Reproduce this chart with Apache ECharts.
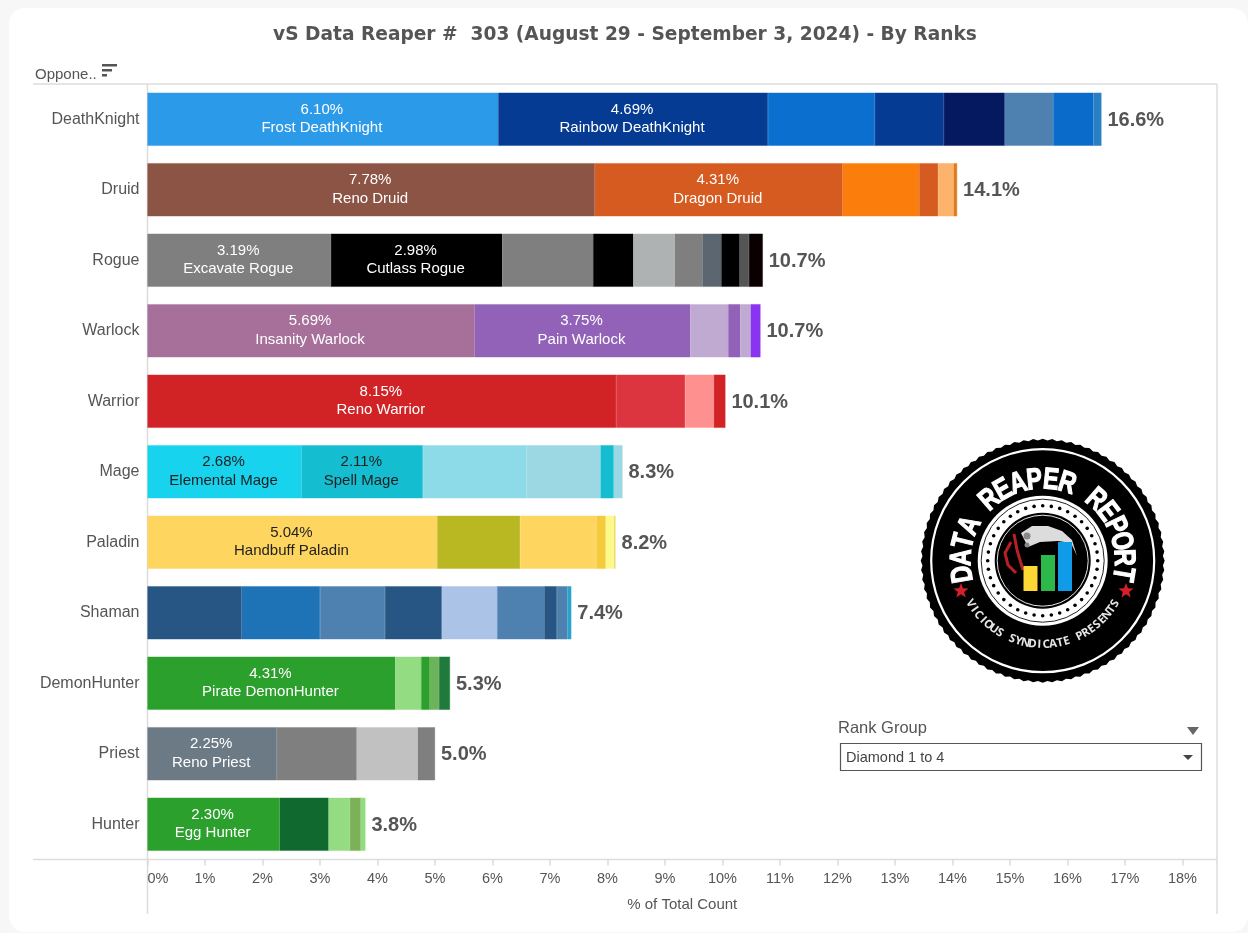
<!DOCTYPE html>
<html><head><meta charset="utf-8">
<style>
html,body{margin:0;padding:0;width:1248px;height:933px;background:#f7f7f7;overflow:hidden}
#card{position:absolute;left:9px;top:8px;width:1239px;height:924px;background:#fff;border-radius:16px}
#chart{position:absolute;left:0;top:0;width:1248px;height:933px;filter:blur(0.35px)}
</style>
<script src="https://cdn.jsdelivr.net/npm/echarts@6/dist/echarts.min.js"></script>
</head><body><div id="card"></div><div id="chart"></div>
<script>
const titleText = 'vS Data Reaper #  303 (August 29 - September 3, 2024) - By Ranks';
const categories = ['DeathKnight','Druid','Rogue','Warlock','Warrior','Mage','Paladin','Shaman','DemonHunter','Priest','Hunter'];
const totalLabels = ['16.6%','14.1%','10.7%','10.7%','10.1%','8.3%','8.2%','7.4%','5.3%','5.0%','3.8%'];
const xTicks = [0,1,2,3,4,5,6,7,8,9,10,11,12,13,14,15,16,17,18];

const deathKnightValues = [6.10,4.69,1.86,1.20,1.06,0.84,0.70,0.14];
const druidValues = [7.78,4.31,1.33,0.33,0.27,0.06];
const rogueValues = [3.19,2.98,1.58,0.70,0.72,0.48,0.33,0.32,0.16,0.24];
const warlockValues = [5.69,3.75,0.66,0.21,0.18,0.17];
const warriorValues = [8.15,1.20,0.50,0.20];
const mageValues = [2.68,2.11,1.80,1.29,0.23,0.15];
const paladinValues = [5.04,1.44,1.33,0.16,0.14,0.03];
const shamanValues = [1.64,1.36,1.13,0.99,0.96,0.82,0.22,0.18,0.07];
const demonHunterValues = [4.31,0.45,0.15,0.16,0.19];
const priestValues = [2.25,1.39,1.06,0.30];
const hunterValues = [2.30,0.85,0.37,0.19,0.08];
const classValues = [deathKnightValues,druidValues,rogueValues,warlockValues,warriorValues,mageValues,paladinValues,shamanValues,demonHunterValues,priestValues,hunterValues];

const classNames = [
  ['Frost DeathKnight','Rainbow DeathKnight'],['Reno Druid','Dragon Druid'],['Excavate Rogue','Cutlass Rogue'],
  ['Insanity Warlock','Pain Warlock'],['Reno Warrior'],['Elemental Mage','Spell Mage'],['Handbuff Paladin'],[],
  ['Pirate DemonHunter'],['Reno Priest'],['Egg Hunter']];

const classColors = [
  ['#2b9ae9','#053b93','#0b6fcf','#053b93','#04195f','#4f81b0','#0b6bcb','#2a7fc4'],
  ['#8b5444','#d65b20','#fb7d0b','#d65b20','#fdb36b','#e07b1f'],
  ['#7f7f7f','#000000','#7f7f7f','#000000','#aeb2b2','#7f7f7f','#5b6670','#000000','#555555','#0a0000'],
  ['#a6709b','#9162b7','#c0aad2','#9162b7','#c0aad2','#8a33f0'],
  ['#d12326','#dd3540','#ff9090','#d12326'],
  ['#17d3ee','#14bdd0','#8ddbe8','#9bd8e3','#14bdd0','#9bd8e3'],
  ['#fed55e','#b9b822','#fed55e','#f5cb3c','#fdfa8c','#f0dc70'],
  ['#285684','#1d73b6','#4f81b0','#285684','#aac3e6','#4f81b0','#285684','#4f81b0','#2ba1cd'],
  ['#2ca02c','#93dc82','#2ca02c','#6db35b','#1f7a3c'],
  ['#6c7a86','#7f7f7f','#c1c1c1','#7f7f7f'],
  ['#2ca02c','#106a2f','#93dc82','#7cb257','#93dc82']];
const darkLabelClasses = ['Mage','Paladin'];

const GREY = '#555555', LINE = '#dcdcdc';
const FONT = '"Liberation Sans", Arial, sans-serif';
const maxSegs = Math.max(...classValues.map(v => v.length));
const series = [];
for (let k = 0; k < maxSegs; k++) {
  series.push({
    type: 'bar', stack: 'total', barWidth: 53, silent: true,
    data: classValues.map((vals, c) => k < vals.length ? {
      value: vals[k],
      itemStyle: { color: classColors[c][k], borderColor: classColors[c][k], borderWidth: 0.4 },
      label: classNames[c][k] ? {
        show: true, position: 'inside', offset: [-1, -0.5],
        formatter: vals[k].toFixed(2) + '%\n' + classNames[c][k],
        color: darkLabelClasses.includes(categories[c]) ? '#1f1f1f' : '#ffffff',
        fontFamily: FONT, fontSize: 15, lineHeight: 18.5
      } : { show: false }
    } : '-')
  });
}
series.push({
  type: 'bar', stack: 'total', barWidth: 53, silent: true,
  data: categories.map(() => 0),
  itemStyle: { color: 'transparent' },
  label: { show: true, position: 'right', distance: 6, offset: [0, 1],
    formatter: p => totalLabels[p.dataIndex],
    color: GREY, fontFamily: FONT, fontWeight: 'bold', fontSize: 20 }
});

// --- decorations: panel lines, sort icon, filter control, logo ---
const g = [];
const line = (x1,y1,x2,y2,c=LINE,w=1.5) => g.push({type:'line',silent:true,shape:{x1,y1,x2,y2},style:{stroke:c,lineWidth:w}});
const txt = (x,y,text,o={}) => g.push({type:'text',silent:true,x,y,rotation:o.rot||0,scaleX:o.scaleX||1,z:o.z||10,style:{text,x:0,y:0,fill:o.fill||GREY,stroke:o.stroke||null,lineWidth:o.strokeWidth||0,align:o.align||'left',verticalAlign:'middle',font:`${o.weight||'normal'} ${o.size||14}px ${o.family||FONT}`}});
const rect = (x,y,width,height,fill,extra={}) => g.push({type:'rect',silent:true,z:extra.z||5,shape:{x,y,width,height},style:Object.assign({fill},extra.style||{})});
const circ = (cx,cy,r,style,z=5) => g.push({type:'circle',silent:true,z,shape:{cx,cy,r},style});
const poly = (points,fill,z=6,smooth=0) => g.push({type:'polygon',silent:true,z,shape:{points,smooth},style:{fill}});

line(33,84,1217,84); line(33,859.5,1217,859.5); line(147.5,84,147.5,914); line(1217,84,1217,914);
txt(35,74.5,'Oppone..',{size:15});
rect(102,64,15,2.5,'#555'); rect(102,69,10,2.5,'#555'); rect(102,74,5,2.5,'#555');

txt(838,728,'Rank Group',{size:16.5});
poly([[1187,727],[1199,727],[1193,735]],'#666');
g.push({type:'rect',silent:true,shape:{x:840.5,y:743.5,width:361,height:27},style:{fill:'#fff',stroke:'#555',lineWidth:1.2}});
txt(846,757.5,'Diamond 1 to 4',{size:14.5,fill:'#444'});
poly([[1183,755],[1193,755],[1188,760]],'#444');

// logo
const LX = 1042.7, LY = 560.7;
const scallop = [];
for (let i = 0; i < 160; i++) { const a = i/160*2*Math.PI, r = i%2 ? 120.3 : 122; scallop.push([LX+r*Math.cos(a), LY+r*Math.sin(a)]); }
poly(scallop,'#000',5);
g.push({type:'circle',silent:true,z:6,shape:{cx:LX,cy:LY,r:111.5},style:{fill:'none',stroke:'#fff',lineWidth:2.2}});
circ(LX,LY,65,{fill:'#fff'},6);
g.push({type:'circle',silent:true,z:6,shape:{cx:LX,cy:LY,r:61.5},style:{fill:'none',stroke:'#222',lineWidth:1}});
for (let i = 0; i < 40; i++) { const a = i/40*2*Math.PI; circ(LX+55*Math.cos(a),LY+55*Math.sin(a),1.8,{fill:'#000'},7); }
circ(LX,LY,48,{fill:'#000'},7);
g.push({type:'circle',silent:true,z:7,shape:{cx:LX,cy:LY,r:45.5},style:{fill:'none',stroke:'#fff',lineWidth:0.9}});
poly([[1021,533],[1032,526],[1048,526],[1062,531],[1072,540],[1077,556],[1071,543],[1058,541],[1040,542],[1028,547]],'#dcdcdc',8);
circ(1027,536,3.5,{fill:'#888'},9); circ(1027,545,2.5,{fill:'#888'},9);
g.push({type:'polyline',silent:true,z:9,shape:{points:[[1011,542],[1005,553],[1008,565],[1016,573]]},style:{fill:'none',stroke:'#b92025',lineWidth:3}});
g.push({type:'polyline',silent:true,z:9,shape:{points:[[1014,534],[1017,550],[1023,570]]},style:{fill:'none',stroke:'#b92025',lineWidth:3}});
rect(1023.5,566,14,25,'#fdd835',{z:9}); rect(1041,555,14,36,'#2db84a',{z:9}); rect(1058,542,14,49,'#0f9be8',{z:9});

const starPts = (cx,cy,R) => { const p=[]; for(let i=0;i<10;i++){const a=-Math.PI/2+i*Math.PI/5,r=i%2?R*0.42:R;p.push([cx+r*Math.cos(a),cy+r*Math.sin(a)]);} return p; };
poly(starPts(961,591,8),'#d4202a',8); poly(starPts(1126,591,8),'#d4202a',8);

const arcText = (s,step,r,size,opts,bottom) => {
  const chars = [...s], n = chars.length;
  chars.forEach((ch,i) => {
    if (ch === ' ') return;
    const off = (i-(n-1)/2)*step;
    const th = (bottom ? 180 - off : off)*Math.PI/180;
    const x = LX + r*Math.sin(th), y = LY - r*Math.cos(th);
    const rot = bottom ? off*Math.PI/180 : -off*Math.PI/180;
    txt(x,y,ch,Object.assign({align:'center',rot,size,z:9},opts));
  });
};
arcText('DATA REAPER REPORT',11.7,80.5,30,{fill:'#fff',stroke:'#fff',strokeWidth:1.2,weight:'bold',scaleX:0.78},false);
arcText('VICIOUS SYNDICATE PRESENTS',4.75,84,11.5,{fill:'#e6e6e6',weight:'bold',family:'"Open Sans",sans-serif'},true);

const chart = echarts.init(document.getElementById('chart'), null, {renderer:'canvas'});
chart.setOption({
  backgroundColor: 'transparent', animation: false,
  title: { text: titleText, left: 620, top: 21, textAlign: 'center',
    textStyle: { color: GREY, fontFamily: '"DejaVu Sans",sans-serif', fontWeight: 'bold', fontSize: 18.6 } },
  grid: { left: 147.5, right: 31, top: 84, bottom: 73.5, containLabel: false },
  xAxis: { type: 'value', min: 0, max: 18.6, interval: 1,
    axisLine: { show: false }, splitLine: { show: false },
    axisTick: { show: true, length: 6, lineStyle: { color: LINE, width: 1.5 } },
    axisLabel: { color: GREY, fontFamily: FONT, fontSize: 14.5, margin: 12, showMaxLabel: false,
      alignMinLabel: 'left', formatter: v => xTicks.includes(v) ? v + '%' : '' },
    name: '% of Total Count', nameLocation: 'middle', nameGap: 38,
    nameTextStyle: { color: GREY, fontFamily: FONT, fontSize: 15 } },
  yAxis: { type: 'category', inverse: true, data: categories,
    axisLine: { show: false }, axisTick: { show: false },
    axisLabel: { color: GREY, fontFamily: FONT, fontSize: 16, margin: 8, padding: [2, 0, 0, 0] } },
  series,
  graphic: { elements: g }
});
</script></body></html>
